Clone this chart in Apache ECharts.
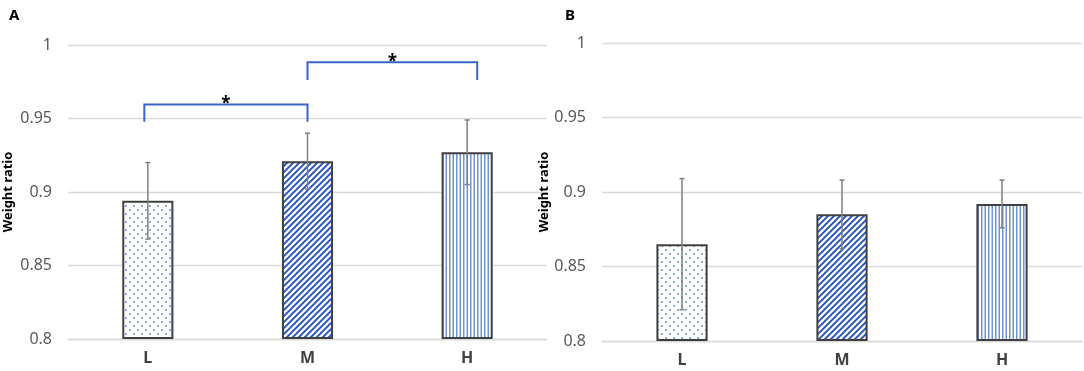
<!DOCTYPE html>
<html>
<head>
<meta charset="utf-8">
<script src="https://cdn.jsdelivr.net/npm/echarts@6/dist/echarts.min.js"></script>
<style>
  html, body { margin: 0; padding: 0; background: #fff; }
  #chart { width: 1084px; height: 371px; }
</style>
</head>
<body>
<div id="chart"></div>
<script>
// 数据
const categories = ['L', 'M', 'H'];
const meanA = [0.894, 0.921, 0.927];
const errA = [0.026, 0.019, 0.022];
const meanB = [0.865, 0.885, 0.892];
const errB = [0.044, 0.023, 0.016];
const yTicks = [0.8, 0.85, 0.9, 0.95, 1];
// 显著性括号: [起点类目, 终点类目, 起点偏移(类目宽), 终点偏移, 顶部值, 底部值]
const bracketsA = [
  [0, 1, -0.022, 0, 0.9596, 0.9478],
  [1, 2, 0, 0.063, 0.9882, 0.9762]
];

// 填充图案
function makePattern(kind) {
  const c = document.createElement('canvas');
  const ctx = c.getContext('2d');
  if (kind === 'dots') {
    c.width = 8; c.height = 8;
    ctx.fillStyle = '#fff'; ctx.fillRect(0, 0, 8, 8);
    ctx.fillStyle = '#8ea8e8';
    ctx.fillRect(1, 1, 2, 2);
    ctx.fillRect(5, 5, 2, 2);
  } else if (kind === 'diag') {
    c.width = 6; c.height = 6;
    ctx.fillStyle = '#fff'; ctx.fillRect(0, 0, 6, 6);
    ctx.strokeStyle = '#1f4fbf';
    ctx.lineWidth = 1.9;
    ctx.beginPath();
    ctx.moveTo(-1, 7); ctx.lineTo(7, -1);
    ctx.moveTo(-4, 4); ctx.lineTo(4, -4);
    ctx.moveTo(2, 10); ctx.lineTo(10, 2);
    ctx.stroke();
  } else {
    c.width = 7; c.height = 4;
    ctx.fillStyle = '#fff'; ctx.fillRect(0, 0, 7, 4);
    ctx.fillStyle = '#6f93d9';
    ctx.fillRect(1, 0, 1.5, 4);
    ctx.fillRect(4.5, 0, 1.5, 4);
  }
  return { image: c, repeat: 'repeat' };
}
const patterns = [makePattern('dots'), makePattern('diag'), makePattern('vert')];

const font = 'Noto Sans';
const gridColor = '#d9d9d9';

function xAxis(gridIndex) {
  return {
    type: 'category', gridIndex, data: categories,
    axisLine: { lineStyle: { color: gridColor, width: 1.3 } },
    axisTick: { show: false },
    axisLabel: { color: '#404040', fontSize: 16, fontWeight: 'bold', fontFamily: font, margin: 11 }
  };
}
function yAxis(gridIndex, gap) {
  return {
    type: 'value', gridIndex, min: yTicks[0], max: yTicks[yTicks.length - 1],
    interval: 0.05, startValue: yTicks[0],
    name: 'Weight ratio', nameLocation: 'middle', nameGap: gap,
    nameTextStyle: { color: '#000', fontSize: 13, fontWeight: 'bold', fontFamily: font },
    axisLine: { show: false }, axisTick: { show: false },
    axisLabel: { color: '#595959', fontSize: 16, fontFamily: font, margin: 16 },
    splitLine: { lineStyle: { color: gridColor, width: 1.3 } }
  };
}
function barSeries(idx, means) {
  return {
    type: 'bar', xAxisIndex: idx, yAxisIndex: idx, barWidth: '32%',
    data: means.map((v, i) => ({
      value: v,
      itemStyle: { color: patterns[i], borderColor: '#404040', borderWidth: 2 }
    }))
  };
}
function errSeries(idx, means, errs) {
  return {
    type: 'custom', xAxisIndex: idx, yAxisIndex: idx, z: 5,
    encode: { x: 0, y: [1, 2] },
    data: means.map((v, i) => [i, v - errs[i], v + errs[i]]),
    renderItem: function (params, api) {
      const lo = api.coord([api.value(0), api.value(1)]);
      const hi = api.coord([api.value(0), api.value(2)]);
      const style = { stroke: '#7f7f7f', lineWidth: 1.5 };
      return {
        type: 'group',
        children: [
          { type: 'line', shape: { x1: lo[0], y1: lo[1], x2: hi[0], y2: hi[1] }, style },
          { type: 'line', shape: { x1: lo[0] - 2.5, y1: lo[1], x2: lo[0] + 2.5, y2: lo[1] }, style },
          { type: 'line', shape: { x1: hi[0] - 2.5, y1: hi[1], x2: hi[0] + 2.5, y2: hi[1] }, style }
        ]
      };
    }
  };
}
const bracketSeries = {
  type: 'custom', xAxisIndex: 0, yAxisIndex: 0, z: 6,
  encode: { x: 0, y: [4, 5] },
  data: bracketsA,
  renderItem: function (params, api) {
    const band = api.size([1, 0])[0];
    const top = api.coord([api.value(0), api.value(4)]);
    const bot = api.coord([api.value(0), api.value(5)]);
    const x1 = api.coord([api.value(0), api.value(4)])[0] + api.value(2) * band;
    const x2 = api.coord([api.value(1), api.value(4)])[0] + api.value(3) * band;
    return {
      type: 'group',
      children: [
        {
          type: 'polyline',
          shape: { points: [[x1, bot[1]], [x1, top[1]], [x2, top[1]], [x2, bot[1]]] },
          style: { stroke: '#3a64c8', lineWidth: 2, fill: null }
        },
        {
          type: 'text',
          style: {
            x: (x1 + x2) / 2, y: top[1], text: '*', fill: '#000',
            font: 'bold 17px "Noto Sans"', align: 'center', verticalAlign: 'middle'
          }
        }
      ]
    };
  }
};

const chart = echarts.init(document.getElementById('chart'));
chart.setOption({
  animation: false,
  backgroundColor: '#fff',
  title: [
    { text: 'A', left: 4, top: 3, textStyle: { fontSize: 15, fontWeight: 'bold', color: '#000', fontFamily: font } },
    { text: 'B', left: 560, top: 3, textStyle: { fontSize: 15, fontWeight: 'bold', color: '#000', fontFamily: font } }
  ],
  grid: [
    { left: 68, right: 537, top: 45, bottom: 32 },
    { left: 602, right: 2, top: 43, bottom: 30 }
  ],
  xAxis: [xAxis(0), xAxis(1)],
  yAxis: [yAxis(0, 53), yAxis(1, 46)],
  series: [
    barSeries(0, meanA), errSeries(0, meanA, errA), bracketSeries,
    barSeries(1, meanB), errSeries(1, meanB, errB)
  ]
});
</script>
</body>
</html>
